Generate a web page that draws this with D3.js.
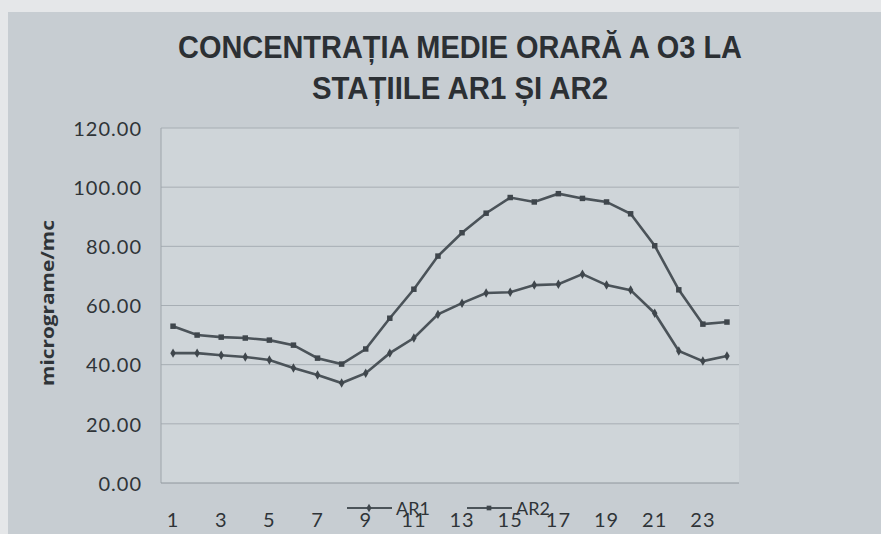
<!DOCTYPE html>
<html>
<head>
<meta charset="utf-8">
<script src="https://cdn.jsdelivr.net/npm/d3@7"></script>
<style>
    body { margin: 0; background: #e5e7e9; }
    svg { display: block; }
</style>
</head>
<body>
<div id="chart"></div>
<script>
// hours of the day (categories)
const hours = [1, 2, 3, 4, 5, 6, 7, 8, 9, 10, 11, 12, 13, 14, 15, 16, 17, 18, 19, 20, 21, 22, 23, 24];
const hourLabels = [1, 3, 5, 7, 9, 11, 13, 15, 17, 19, 21, 23];
// mean hourly O3, micrograme/mc
const ar1 = [43.9, 43.9, 43.2, 42.6, 41.6, 38.9, 36.5, 33.8, 37.1, 43.9, 49.0, 57.0,
    60.8, 64.2, 64.5, 66.9, 67.2, 70.6, 66.9, 65.2, 57.4, 44.6, 41.2, 42.9];
const ar2 = [53.0, 50.0, 49.3, 49.0, 48.3, 46.6, 42.2, 40.2, 45.3, 55.7, 65.5, 76.7,
    84.6, 91.2, 96.5, 95.0, 97.8, 96.2, 95.0, 91.0, 80.2, 65.3, 53.7, 54.4];
const yTicks = [0, 20, 40, 60, 80, 100, 120];
const seriesNames = ['AR1', 'AR2'];

var W = 881, H = 534;
var plot = { left: 161, right: 739, top: 128, bottom: 483 };
var lineColor = '#4b5359';

var svg = d3.select('#chart').append('svg')
    .attr('width', W)
    .attr('height', H);

// chart area + plot area backgrounds
svg.append('rect')
    .attr('x', 8).attr('y', 12)
    .attr('width', W - 8).attr('height', H - 12)
    .attr('fill', '#c7cdd2');
svg.append('rect')
    .attr('x', plot.left).attr('y', plot.top)
    .attr('width', plot.right - plot.left).attr('height', plot.bottom - plot.top)
    .attr('fill', '#cfd5d9');

var x = d3.scaleBand()
    .domain(hours)
    .range([plot.left, plot.right]);
var y = d3.scaleLinear()
    .domain([0, 120])
    .range([plot.bottom, plot.top]);
var cx = function (h) { return x(h) + x.bandwidth() / 2; };

// gridlines
svg.append('g')
    .selectAll('line')
    .data(yTicks.slice(1))
    .enter().append('line')
    .attr('x1', plot.left).attr('x2', plot.right)
    .attr('y1', function (d) { return y(d); })
    .attr('y2', function (d) { return y(d); })
    .attr('stroke', '#a7aeb4')
    .attr('stroke-width', 1);

// plot border lines (left + bottom)
svg.append('line')
    .attr('x1', plot.left).attr('x2', plot.left)
    .attr('y1', plot.top).attr('y2', plot.bottom)
    .attr('stroke', '#9ea5ab');
svg.append('line')
    .attr('x1', plot.left).attr('x2', plot.right)
    .attr('y1', plot.bottom).attr('y2', plot.bottom)
    .attr('stroke', '#8f969c');

// y axis
var yAxis = svg.append('g')
    .attr('transform', 'translate(' + (plot.left - 19) + ',0)')
    .call(d3.axisLeft(y).tickValues(yTicks).tickFormat(d3.format('.2f')).tickSize(0));
yAxis.select('.domain').remove();
yAxis.selectAll('text')
    .attr('x', 0)
    .attr('dy', '0.36em')
    .style('font-family', 'Lato, sans-serif')
    .style('font-size', '20px')
    .style('letter-spacing', '1px')
    .attr('fill', '#2f3438');

// x axis
var xAxis = svg.append('g')
    .attr('transform', 'translate(0,' + plot.bottom + ')')
    .call(d3.axisBottom(x).tickValues(hourLabels).tickSize(0));
xAxis.select('.domain').remove();
xAxis.selectAll('text')
    .attr('y', 44)
    .attr('dy', 0)
    .style('font-family', 'Lato, sans-serif')
    .style('font-size', '20px')
    .style('letter-spacing', '1px')
    .attr('fill', '#2f3438');

// lines + markers
var line = d3.line()
    .x(function (d, i) { return cx(hours[i]); })
    .y(function (d) { return y(d); });

[ar1, ar2].forEach(function (data, k) {
    svg.append('path')
        .datum(data)
        .attr('d', line)
        .attr('fill', 'none')
        .attr('stroke', lineColor)
        .attr('stroke-width', 2.6);
    var sym = k === 0 ? d3.symbolDiamond : d3.symbolSquare;
    svg.append('g')
        .selectAll('path')
        .data(data)
        .enter().append('path')
        .attr('d', d3.symbol().type(sym).size(k === 0 ? 26 : 30))
        .attr('transform', function (d, i) { return 'translate(' + cx(hours[i]) + ',' + y(d) + ')'; })
        .attr('fill', '#3f464c');
});

// title
var title = svg.append('g')
    .style('font-family', '"Liberation Sans", Arial, sans-serif')
    .style('font-weight', 'bold')
    .style('font-size', '31px')
    .attr('fill', '#2c3034');
title.append('text')
    .attr('x', 460).attr('y', 58)
    .attr('text-anchor', 'middle')
    .attr('textLength', 564)
    .attr('lengthAdjust', 'spacingAndGlyphs')
    .text('CONCENTRAȚIA MEDIE ORARĂ A O3 LA');
title.append('text')
    .attr('x', 460).attr('y', 99)
    .attr('text-anchor', 'middle')
    .attr('textLength', 296)
    .attr('lengthAdjust', 'spacingAndGlyphs')
    .text('STAȚIILE AR1 ȘI AR2');

// y axis title
svg.append('text')
    .attr('transform', 'translate(54,303) rotate(-90)')
    .attr('text-anchor', 'middle')
    .attr('textLength', 166)
    .attr('lengthAdjust', 'spacingAndGlyphs')
    .style('font-family', '"Open Sans", sans-serif')
    .style('font-weight', 'bold')
    .style('font-size', '18px')
    .attr('fill', '#2f3438')
    .text('micrograme/mc');

// legend (overlapping the x labels, like the original)
var legendX = [347, 467];
var legend = svg.append('g')
    .selectAll('g')
    .data(seriesNames)
    .enter().append('g')
    .attr('transform', function (d, i) { return 'translate(' + legendX[i] + ',508)'; });
legend.append('line')
    .attr('x1', 0).attr('x2', 45)
    .attr('stroke', lineColor)
    .attr('stroke-width', 2.2);
legend.append('path')
    .attr('d', function (d, i) { return d3.symbol().type(i === 0 ? d3.symbolDiamond : d3.symbolSquare).size(22)(); })
    .attr('transform', 'translate(22,0)')
    .attr('fill', '#3f464c');
legend.append('text')
    .attr('x', 49).attr('y', 7)
    .style('font-family', 'Lato, sans-serif')
    .style('font-size', '18px')
    .attr('fill', '#2f3438')
    .text(function (d) { return d; });
</script>
</body>
</html>
